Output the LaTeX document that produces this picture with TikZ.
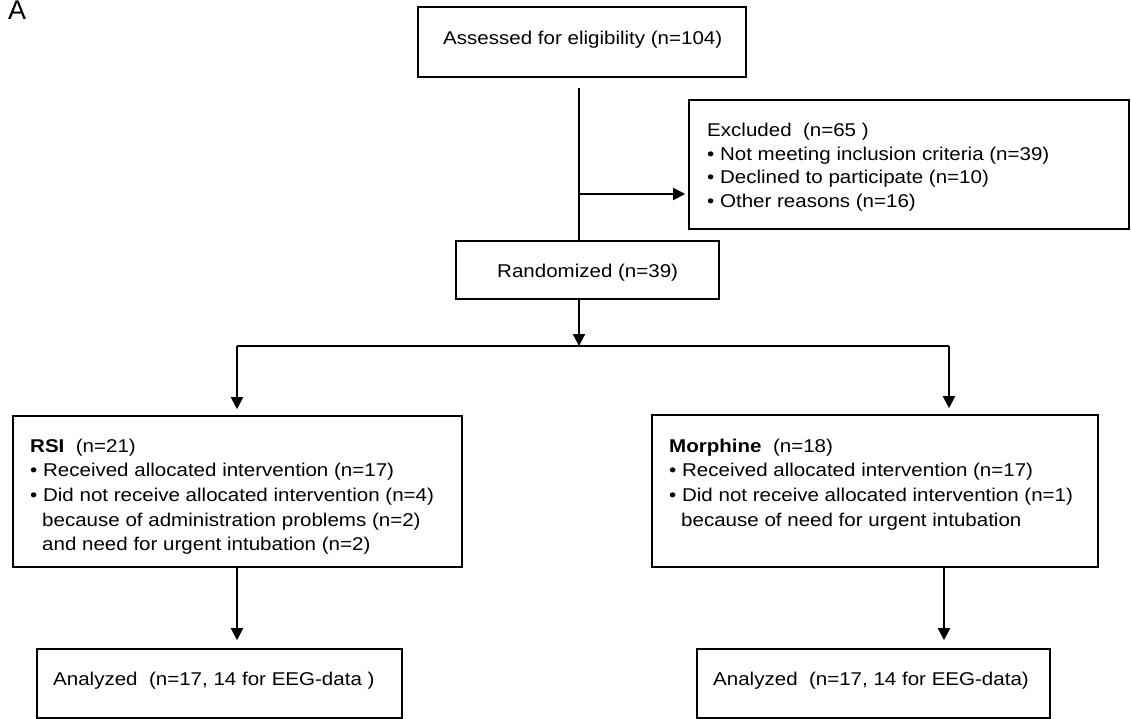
\documentclass[tikz,border=0pt]{standalone}
\usepackage{fontspec}
\setmainfont[FakeStretch=1.11]{Liberation Sans}
\newfontfamily\plainfont{Liberation Sans}
\usetikzlibrary{arrows.meta}
\tikzset{
  box/.style={draw=black, line width=1.6pt, rectangle, inner sep=0pt, fill=white},
  txt/.style={anchor=base west, inner sep=0pt, font=\fontsize{18.5}{22}\selectfont},
  conn/.style={line width=2pt, draw=black},
  arr/.style={conn, -{Triangle[length=12pt,width=12pt]}},
}
\begin{document}
\begin{tikzpicture}[x=1pt,y=-1pt]
\useasboundingbox (0,0) rectangle (1131,719);

% label
\node[anchor=base west, inner sep=0pt, font=\plainfont\fontsize{27}{30}\selectfont] (lbl) at (8,20) {A};

% boxes
\node[box, minimum width=328pt, minimum height=70pt] (assess) at (582,42) {};
\node[box, minimum width=440pt, minimum height=129pt] (excl) at (909,164.5) {};
\node[box, minimum width=263pt, minimum height=58pt] (rand) at (587.5,270) {};
\node[box, minimum width=449pt, minimum height=151pt] (rsi) at (237.5,491.5) {};
\node[box, minimum width=446pt, minimum height=152pt] (morph) at (875,491) {};
\node[box, minimum width=365pt, minimum height=69pt] (anl) at (219.5,683.5) {};
\node[box, minimum width=353pt, minimum height=69pt] (anr) at (873.5,683.5) {};

% texts
\node[txt] (assessT) at (443,45) {Assessed for eligibility (n=104)};
\node[txt] (randT) at (497,277) {Randomized (n=39)};

\node[txt] (exA) at (707,137) {Excluded\ \ (n=65 )};
\node[txt] (exB) at (707,160.5) {• Not meeting inclusion criteria (n=39)};
\node[txt] (exC) at (707,184) {• Declined to participate (n=10)};
\node[txt] (exD) at (707,207.5) {• Other reasons (n=16)};

\node[txt] (rsiA) at (30,452) {\textbf{RSI}\ \ (n=21)};
\node[txt] (rsiB) at (30,476) {• Received allocated intervention (n=17)};
\node[txt] (rsiC) at (30,501) {• Did not receive allocated intervention (n=4)};
\node[txt] (rsiD) at (42,526) {because of administration problems (n=2)};
\node[txt] (rsiE) at (42,550) {and need for urgent intubation (n=2)};

\node[txt] (moA) at (669,452) {\textbf{Morphine}\ \ (n=18)};
\node[txt] (moB) at (669,476) {• Received allocated intervention (n=17)};
\node[txt] (moC) at (669,501) {• Did not receive allocated intervention (n=1)};
\node[txt] (moD) at (681,526) {because of need for urgent intubation};

\node[txt] (anlT) at (53,685) {Analyzed\ \ (n=17, 14 for EEG-data )};
\node[txt] (anrT) at (713,685) {Analyzed\ \ (n=17, 14 for EEG-data)};

% connectors
\coordinate (vtop) at (579,88);
\coordinate (branch) at (579,194);
\coordinate (hl) at (237,346);
\coordinate (hr) at (949,346);
\coordinate (hm) at (579,346);
\coordinate (bl) at (237,567);
\coordinate (br) at (944,567);

\draw[conn] (vtop) -- (vtop |- rand.north);
\draw[arr, shorten >=3pt] (branch) -- (branch -| excl.west);
\draw[arr] (rand.south -| vtop) -- (hm);
\draw[conn] (hl) -- (hr);
\draw[arr, shorten >=6pt] (hl) -- (hl |- rsi.north);
\draw[arr, shorten >=6pt] (hr) -- (hr |- morph.north);
\draw[arr, shorten >=8pt] (bl) -- (bl |- anl.north);
\draw[arr, shorten >=8pt] (br) -- (br |- anr.north);
\end{tikzpicture}
\end{document}
